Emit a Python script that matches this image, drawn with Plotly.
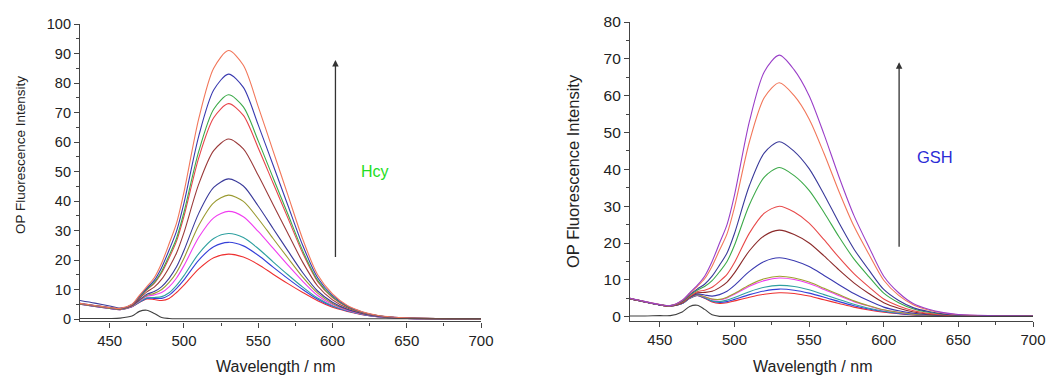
import plotly.graph_objects as go

# ---- data ----
wavelength = [430, 440, 450, 457, 465, 470, 475, 480, 485, 490, 495, 500, 510, 520, 530,
              540, 550, 560, 570, 580, 590, 600, 610, 620, 630, 640, 650, 670, 700]

# Hcy panel
hcy_91 = [5.3, 4.6, 3.9, 3.6, 5.0, 8.0, 11.0, 14.0, 19.0, 25.5, 32.5, 43.0, 68.0, 85.0, 91.0, 86.0, 72.0, 57.0, 42.0, 27.0, 15.0, 8.5, 4.6, 2.5, 1.3, 0.7, 0.4, 0.2, 0.1]
hcy_83 = [5.3, 4.6, 3.9, 3.55, 4.9, 7.7, 10.5, 13.1, 17.5, 23.4, 29.8, 39.3, 62.1, 77.6, 83.0, 78.5, 65.8, 52.2, 38.5, 24.9, 14.0, 8.0, 4.4, 2.4, 1.2, 0.65, 0.38, 0.19, 0.1]
hcy_76 = [5.2, 4.5, 3.8, 3.5, 4.8, 7.5, 10.1, 12.4, 16.2, 21.5, 27.4, 36.2, 56.9, 71.1, 76.0, 71.9, 60.4, 47.9, 35.5, 23.1, 13.1, 7.5, 4.2, 2.3, 1.2, 0.6, 0.35, 0.18, 0.09]
hcy_73 = [5.2, 4.5, 3.8, 3.5, 4.8, 7.4, 9.9, 12.1, 15.7, 20.7, 26.4, 34.8, 54.7, 68.2, 73.0, 69.0, 58.0, 46.1, 34.2, 22.3, 12.7, 7.3, 4.1, 2.2, 1.2, 0.6, 0.35, 0.18, 0.09]
hcy_61 = [5.2, 4.5, 3.8, 3.4, 4.6, 7.0, 9.2, 10.8, 13.5, 17.5, 22.4, 29.3, 45.8, 57.1, 61.0, 57.7, 48.7, 38.8, 29.0, 19.2, 11.2, 6.5, 3.7, 2.1, 1.1, 0.55, 0.3, 0.15, 0.08]
hcy_47 = [6.3, 5.4, 4.4, 3.7, 4.6, 6.5, 8.4, 9.3, 11.0, 13.8, 17.7, 23.2, 35.9, 44.6, 47.5, 45.1, 38.3, 30.7, 23.1, 15.7, 9.5, 5.7, 3.3, 1.9, 1.0, 0.5, 0.3, 0.15, 0.08]
hcy_42 = [5.1, 4.4, 3.7, 3.3, 4.4, 6.3, 8.0, 8.7, 10.0, 12.4, 15.8, 20.6, 31.8, 39.4, 42.0, 39.9, 34.0, 27.3, 20.7, 14.2, 8.8, 5.3, 3.2, 1.8, 0.95, 0.5, 0.25, 0.13, 0.07]
hcy_36 = [5.1, 4.4, 3.7, 3.3, 4.3, 6.1, 7.7, 8.2, 9.0, 10.9, 13.9, 18.1, 27.7, 34.3, 36.5, 34.7, 29.7, 24.0, 18.3, 12.8, 8.0, 4.9, 3.0, 1.7, 0.9, 0.45, 0.23, 0.12, 0.06]
hcy_29 = [5.1, 4.4, 3.7, 3.3, 4.3, 5.8, 7.2, 7.3, 7.6, 8.9, 11.4, 14.7, 22.2, 27.3, 29.0, 27.6, 23.9, 19.4, 15.0, 10.8, 7.1, 4.5, 2.8, 1.6, 0.85, 0.43, 0.22, 0.11, 0.06]
hcy_26 = [5.0, 4.3, 3.6, 3.2, 4.2, 5.7, 7.0, 7.0, 7.0, 8.1, 10.4, 13.3, 20.0, 24.5, 26.0, 24.8, 21.6, 17.6, 13.7, 10.0, 6.7, 4.3, 2.7, 1.55, 0.82, 0.42, 0.21, 0.1, 0.05]
hcy_22 = [5.0, 4.3, 3.6, 3.2, 4.2, 5.6, 6.8, 6.6, 6.3, 7.0, 9.0, 11.5, 17.0, 20.8, 22.0, 21.0, 18.5, 15.2, 12.0, 9.0, 6.2, 4.0, 2.6, 1.5, 0.8, 0.4, 0.2, 0.1, 0.05]
hcy_blank = [0.2, 0.2, 0.2, 0.3, 1.0, 2.6, 3.0, 1.9, 0.5, 0.2, 0.1, 0.1, 0.1, 0.1, 0.1, 0.1, 0.1, 0.1, 0.1, 0.1, 0.1, 0.1, 0.1, 0.1, 0.1, 0.1, 0.1, 0.1, 0.1]

# GSH panel
gsh_71 = [5.0, 4.1, 3.3, 3.0, 4.5, 6.5, 8.5, 11.0, 15.0, 20.0, 25.0, 33.0, 53.0, 66.5, 71.0, 67.0, 60.0, 49.5, 38.0, 27.5, 19.0, 11.0, 6.5, 3.5, 2.0, 1.1, 0.6, 0.3, 0.2]
gsh_63 = [5.0, 4.1, 3.3, 3.0, 4.4, 6.3, 8.2, 10.3, 13.7, 18.1, 22.5, 29.7, 47.5, 59.5, 63.5, 60.0, 53.7, 44.3, 34.0, 24.6, 17.0, 9.9, 5.8, 3.2, 1.8, 1.0, 0.55, 0.28, 0.19]
gsh_47 = [5.0, 4.1, 3.2, 3.0, 4.2, 6.0, 7.5, 8.8, 11.0, 14.0, 17.3, 22.6, 35.6, 44.5, 47.5, 44.9, 40.2, 33.2, 25.5, 18.4, 12.7, 7.4, 4.4, 2.4, 1.4, 0.77, 0.44, 0.23, 0.16]
gsh_40 = [4.95, 4.05, 3.25, 2.95, 4.1, 5.8, 7.2, 8.2, 9.8, 12.2, 15.0, 19.4, 30.4, 37.9, 40.5, 38.3, 34.3, 28.3, 21.7, 15.7, 10.9, 6.4, 3.8, 2.1, 1.2, 0.67, 0.39, 0.2, 0.15]
gsh_30 = [4.95, 4.05, 3.2, 2.9, 3.9, 5.5, 6.8, 7.2, 8.0, 9.6, 11.5, 14.7, 22.7, 28.1, 30.0, 28.4, 25.4, 20.9, 16.1, 11.7, 8.1, 4.8, 2.9, 1.6, 0.9, 0.5, 0.3, 0.17, 0.13]
gsh_23 = [4.9, 4.0, 3.2, 2.9, 3.8, 5.4, 6.5, 6.6, 6.9, 7.9, 9.4, 11.9, 17.9, 22.0, 23.5, 22.3, 20.0, 16.5, 12.7, 9.2, 6.3, 3.8, 2.3, 1.3, 0.75, 0.44, 0.27, 0.15, 0.12]
gsh_16 = [4.9, 4.0, 3.2, 2.9, 3.7, 5.2, 6.2, 5.9, 5.6, 6.0, 6.9, 8.5, 12.3, 15.0, 16.0, 15.2, 13.6, 11.2, 8.7, 6.3, 4.3, 2.6, 1.6, 0.95, 0.55, 0.33, 0.22, 0.13, 0.11]
gsh_11 = [4.9, 4.0, 3.2, 2.9, 3.7, 5.1, 6.0, 5.4, 4.8, 4.7, 5.3, 6.3, 8.6, 10.3, 11.0, 10.5, 9.4, 7.7, 6.0, 4.3, 3.0, 1.9, 1.2, 0.7, 0.42, 0.26, 0.18, 0.11, 0.1]
gsh_10 = [4.9, 4.0, 3.2, 2.9, 3.7, 5.1, 6.0, 5.4, 4.7, 4.6, 5.1, 6.1, 8.3, 9.8, 10.5, 10.1, 9.0, 7.4, 5.7, 4.1, 2.9, 1.8, 1.15, 0.7, 0.4, 0.26, 0.18, 0.11, 0.1]
gsh_8 = [4.9, 4.0, 3.2, 2.9, 3.6, 5.0, 5.9, 5.2, 4.3, 4.1, 4.5, 5.2, 6.8, 8.0, 8.5, 8.2, 7.3, 6.0, 4.7, 3.4, 2.3, 1.5, 1.0, 0.6, 0.35, 0.23, 0.16, 0.1, 0.1]
gsh_7 = [4.9, 4.0, 3.2, 2.9, 3.6, 5.0, 5.8, 5.1, 4.2, 3.9, 4.1, 4.7, 6.0, 7.0, 7.5, 7.2, 6.4, 5.3, 4.1, 3.0, 2.1, 1.4, 0.9, 0.55, 0.33, 0.21, 0.16, 0.1, 0.1]
gsh_6 = [4.9, 4.0, 3.2, 2.9, 3.6, 5.0, 5.8, 5.0, 4.0, 3.6, 3.8, 4.3, 5.3, 6.1, 6.5, 6.3, 5.6, 4.6, 3.6, 2.6, 1.8, 1.2, 0.8, 0.5, 0.3, 0.2, 0.15, 0.1, 0.1]
gsh_blank = [0.2, 0.2, 0.3, 0.3, 1.3, 2.8, 3.1, 2.0, 0.5, 0.1, 0.1, 0.1, 0.1, 0.1, 0.1, 0.1, 0.1, 0.1, 0.1, 0.1, 0.1, 0.1, 0.1, 0.1, 0.1, 0.1, 0.1, 0.1, 0.1]

x_ticks = [450, 500, 550, 600, 650, 700]

hcy_series = [hcy_22, hcy_26, hcy_29, hcy_36, hcy_42, hcy_47, hcy_61, hcy_73, hcy_76, hcy_83, hcy_91, hcy_blank]
hcy_colors = ["#EE3030", "#3540D8", "#2FA0A0", "#F03CF0", "#9A9A30", "#3A3A9A",
              "#9B3A3A", "#E8454A", "#3DAA4A", "#3A3AB0", "#F2775A", "#404040"]

gsh_series = [gsh_6, gsh_7, gsh_8, gsh_10, gsh_11, gsh_16, gsh_23, gsh_30, gsh_40, gsh_47, gsh_63, gsh_71, gsh_blank]
gsh_colors = ["#EE3030", "#3540D8", "#2FA0A0", "#F03CF0", "#A0A030", "#3A3AB0",
              "#8B2A2A", "#E84A4A", "#3DAA4A", "#3A3A9A", "#F2775A", "#9A3FC8", "#404040"]

W, H = 1046, 376
fig = go.Figure()

for ys, c in zip(hcy_series, hcy_colors):
    fig.add_trace(go.Scatter(x=wavelength, y=ys, mode="lines", xaxis="x", yaxis="y",
                             line=dict(color=c, width=1.1, shape="spline", smoothing=0.8),
                             showlegend=False, hoverinfo="skip"))
for ys, c in zip(gsh_series, gsh_colors):
    fig.add_trace(go.Scatter(x=wavelength, y=ys, mode="lines", xaxis="x2", yaxis="y2",
                             line=dict(color=c, width=1.1, shape="spline", smoothing=0.8),
                             showlegend=False, hoverinfo="skip"))

font_family = "Liberation Sans, Arial, sans-serif"


def axis_style(size):
    return dict(showline=True, linecolor="#444", linewidth=1.2, ticks="outside",
                ticklen=5, tickwidth=1.2, tickcolor="#444", showgrid=False, zeroline=False,
                automargin=False, ticklabeloverflow="allow",
                tickfont=dict(family=font_family, size=size, color="#222"))


fig.update_layout(
    width=W, height=H, margin=dict(l=0, r=0, t=0, b=0, autoexpand=False),
    paper_bgcolor="white", plot_bgcolor="white", showlegend=False,
    xaxis=dict(domain=[80 / W, 481 / W], range=[430, 700], tickvals=x_ticks,
               minor=dict(ticks="outside", ticklen=3, tickcolor="#444", dtick=25, tick0=0),
               anchor="y", **axis_style(15)),
    yaxis=dict(domain=[1 - 321.4 / H, 1 - 24 / H], range=[-0.8, 100], dtick=10, tick0=0,
               minor=dict(ticks="outside", ticklen=3, tickcolor="#444", dtick=5, tick0=0),
               anchor="x", **axis_style(14.5)),
    xaxis2=dict(domain=[630 / W, 1033 / W], range=[430, 700], tickvals=x_ticks,
                minor=dict(ticks="outside", ticklen=3, tickcolor="#444", dtick=25, tick0=0),
                anchor="y2", **axis_style(15)),
    yaxis2=dict(domain=[1 - 320.8 / H, 1 - 22 / H], range=[-1.11, 80], dtick=10, tick0=0,
                minor=dict(ticks="outside", ticklen=3, tickcolor="#444", dtick=5, tick0=0),
                anchor="x2", **axis_style(15.5)),
)

ann = []
# axis titles
ann.append(dict(text="OP Fluorescence Intensity", x=20 / W, y=1 - 155 / H, xref="paper", yref="paper",
                showarrow=False, textangle=-90, font=dict(family=font_family, size=13.5, color="#222"),
                xanchor="center", yanchor="middle"))
ann.append(dict(text="OP Fluorescence Intensity", x=573 / W, y=1 - 171 / H, xref="paper", yref="paper",
                showarrow=False, textangle=-90, font=dict(family=font_family, size=16.5, color="#222"),
                xanchor="center", yanchor="middle"))
ann.append(dict(text="Wavelength / nm", x=275 / W, y=1 - 366 / H, xref="paper", yref="paper",
                showarrow=False, font=dict(family=font_family, size=16, color="#222"),
                xanchor="center", yanchor="middle"))
ann.append(dict(text="Wavelength / nm", x=812 / W, y=1 - 366 / H, xref="paper", yref="paper",
                showarrow=False, font=dict(family=font_family, size=16, color="#222"),
                xanchor="center", yanchor="middle"))
# arrows
ann.append(dict(text="", x=602, y=87.8, ax=602, ay=20.5, xref="x", yref="y", axref="x", ayref="y",
                showarrow=True, arrowhead=2, arrowsize=1, arrowwidth=1.3, arrowcolor="#333"))
ann.append(dict(text="", x=610.3, y=69.1, ax=610.3, ay=18.6, xref="x2", yref="y2", axref="x2", ayref="y2",
                showarrow=True, arrowhead=2, arrowsize=1, arrowwidth=1.3, arrowcolor="#333"))
# labels
ann.append(dict(text="Hcy", x=375 / W, y=1 - 172 / H, xref="paper", yref="paper", showarrow=False,
                font=dict(family=font_family, size=16, color="#22DD22"), xanchor="center", yanchor="middle"))
ann.append(dict(text="GSH", x=935 / W, y=1 - 157 / H, xref="paper", yref="paper", showarrow=False,
                font=dict(family=font_family, size=16.5, color="#2B2BD6"), xanchor="center", yanchor="middle"))
fig.update_layout(annotations=ann)

fig.write_html("out.html", config={"displayModeBar": False},
               post_script="document.body.style.margin='0';document.body.style.padding='0';"
                           "document.documentElement.style.overflow='hidden';")
